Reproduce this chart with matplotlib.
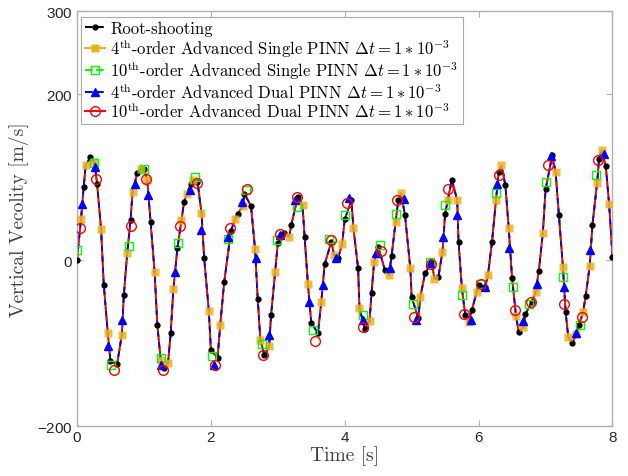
import numpy as np
import matplotlib
matplotlib.use("Agg")
import matplotlib.pyplot as plt
from matplotlib.lines import Line2D

plt.rcParams['mathtext.fontset'] = 'cm'
plt.rcParams['axes.unicode_minus'] = False
plt.rcParams['axes.formatter.use_mathtext'] = True

# root-shooting reference, one marker every 0.1 s
t_rs = np.round(np.arange(81) * 0.1, 1)
v_rs = [0, 88, 124, 92, -30, -122, -125, -42, 48, 105,
        110, 46, -78, -130, -88, 14, 70, 91, 94, 2,
        -108, -118, -26, 35, 56, 80, 65, -47, -115, -66,
        20, 33, 42, 76, 28, -76, -88, -5, 22, 2,
        49, 72, -10, -83, -40, 16, -12, 5, 72, 54,
        -45, -70, -16, -3, -20, 56, 97, 22, -66, -60,
        -30, -32, 22, 106, 90, -22, -87, -65, -50, -13,
        85, 126, 54, -63, -100, -78, -43, 42, 122, 113,
        4]

# 4th-order advanced single PINN
t_s4 = [0.06, 0.13, 0.26, 0.36, 0.46, 0.67, 0.75, 0.83, 0.95, 1.05,
        1.16, 1.25, 1.36, 1.44, 1.56, 1.64, 1.74, 1.86, 1.97, 2.14,
        2.36, 2.48, 2.66, 2.74, 2.87, 2.96, 3.17, 3.37, 3.45, 3.65,
        3.84, 3.96, 4.13, 4.22, 4.37, 4.44, 4.66, 4.76, 4.84, 4.98,
        5.13, 5.34, 5.46, 5.54, 5.68, 5.75, 5.85, 5.97, 6.14, 6.26,
        6.34, 6.45, 6.56, 6.67, 6.85, 6.96, 7.15, 7.26, 7.34, 7.46,
        7.56, 7.66, 7.77, 7.84, 7.95]
v_s4 = [49, 114, 118, 37, -88, -90, 8, 82, 110, 96,
        -15, -120, -124, -35, 48, 80, 96, 57, -62, -78,
        49, 65, 13, -96, -104, -14, 28, 66, -29, -50,
        6, 19, 38, -58, -74, -2, -18, 46, 81, -10,
        -44, -23, 10, 72, 72, -34, -75, -39, -18, 72,
        114, 38, -68, -81, -39, 33, 106, -9, -93, -89,
        -63, -7, 93, 132, 67]

# 10th-order advanced single PINN
t_s10 = [0.0, 0.26, 0.51, 0.77, 1.0, 1.26, 1.51, 1.76, 2.01, 2.26,
         2.53, 2.77, 2.99, 3.28, 3.52, 3.76, 4.01, 4.27, 4.52, 4.77,
         5.02, 5.28, 5.50, 5.75, 6.02, 6.26, 6.52, 6.75, 7.0, 7.26,
         7.51, 7.76]
v_s10 = [12, 117, -126, 17, 110, -118, 21, 100, -116, 25,
         84, -101, 24, 64, -84, 25, 54, -66, 18, 55,
         -53, -2, 66, -42, -29, 81, -32, -53, 94, -21,
         -78, 102]

# 4th-order advanced dual PINN
t_d4 = [0.07, 0.27, 0.47, 0.67, 0.86, 1.06, 1.26, 1.46, 1.69, 1.86,
        2.04, 2.26, 2.46, 2.68, 2.87, 3.04, 3.26, 3.46, 3.67, 3.87,
        4.07, 4.28, 4.46, 4.68, 4.88, 5.07, 5.28, 5.47, 5.67, 5.88,
        6.09, 6.27, 6.46, 6.67, 6.87, 7.08, 7.27, 7.46, 7.67, 7.87]
v_d4 = [68, 112, -104, -72, 92, 78, -126, -14, 84, 36,
        -126, 28, 70, 2, -90, 30, 72, -51, -30, 2,
        75, -72, 9, -10, 74, -72, -3, 28, 54, -72,
        -32, 92, 15, -74, -29, 125, -32, -88, 12, 128]

# 10th-order advanced dual PINN
t_d10 = [0.05, 0.28, 0.55, 0.80, 1.03, 1.29, 1.54, 1.80, 2.06, 2.28,
         2.54, 2.78, 3.03, 3.29, 3.56, 3.79, 4.04, 4.28, 4.54, 4.78,
         5.04, 5.29, 5.54, 5.78, 6.04, 6.30, 6.54, 6.79, 7.04, 7.28,
         7.54, 7.78]
v_d10 = [39, 98, -132, 41, 98, -132, 41, 93, -126, 38,
         85, -114, 31, 76, -97, 24, 69, -81, 11, 72,
         -69, -5, 85, -65, -29, 102, -60, -51, 114, -53,
         -69, 120]

labels = ['Root-shooting',
          r'4$^{\mathrm{th}}$-order Advanced Single PINN $\Delta t=1*10^{-3}$',
          r'10$^{\mathrm{th}}$-order Advanced Single PINN $\Delta t=1*10^{-3}$',
          r'4$^{\mathrm{th}}$-order Advanced Dual PINN $\Delta t=1*10^{-3}$',
          r'10$^{\mathrm{th}}$-order Advanced Dual PINN $\Delta t=1*10^{-3}$']

orange = '#EDB120'
green = '#00FF00'

# traced trajectory (dense points) for the connecting lines
path = sorted(zip(list(t_rs) + t_s4, v_rs + v_s4))
t_path = [p[0] for p in path]
v_path = [p[1] for p in path]

fig = plt.figure(figsize=(6.28, 4.77), dpi=100)
ax = fig.add_axes([0.1226, 0.1048, 0.8527, 0.870])

ax.plot(t_path, v_path, '--', color='k', lw=1.2, zorder=2)
ax.plot(t_path, v_path, '-', color=orange, lw=1.2, zorder=2)
ax.plot(t_path, v_path, '--', color=green, lw=1.2, zorder=2)
ax.plot(t_path, v_path, '-', color='r', lw=1.3, zorder=2)
ax.plot(t_path, v_path, '--', color='b', lw=1.3, dashes=(3, 3), zorder=2)

ax.plot(t_rs, v_rs, 'o', color='k', ms=3.5, zorder=3)
ax.plot(t_s4, v_s4, 's', color=orange, ms=5.5, alpha=0.85, mec='none', zorder=3)
ax.plot(t_s10, v_s10, 's', mfc='none', mec=green, mew=1.0, ms=5.5, zorder=3)
ax.plot(t_d4, v_d4, '^', color='b', ms=5.5, zorder=3)
ax.plot(t_d10, v_d10, 'o', mfc='none', mec='r', mew=1.0, ms=7, zorder=3)

handles = [Line2D([], [], color='k', ls='--', marker='o', ms=3.5),
           Line2D([], [], color=orange, ls='-', marker='s', ms=5.5, mec='none'),
           Line2D([], [], color=green, ls='--', marker='s', mfc='none', ms=5.5),
           Line2D([], [], color='b', ls='--', marker='^', ms=5.5),
           Line2D([], [], color='r', ls='-', marker='o', mfc='none', ms=7)]
leg = ax.legend(handles, labels, loc='upper left', bbox_to_anchor=(0.008, 0.986),
                borderaxespad=0, prop={'family': 'cmr10', 'size': 12},
                handlelength=1.2, handletextpad=0.3, labelspacing=0.0,
                borderpad=0.25, fancybox=False, framealpha=1)
leg.get_frame().set_edgecolor('#aaaaaa')
leg.get_frame().set_linewidth(0.8)

ax.set_xlim(0, 8)
ax.set_ylim(-200, 300)
ax.set_xticks([0, 2, 4, 6, 8])
ax.set_yticks([-200, 0, 200, 300])
ax.tick_params(direction='in', length=4, width=0.8, colors='#b0b0b0',
               labelcolor='#262626', labelsize=11, top=True, right=True, pad=3)
for lab in ax.get_xticklabels() + ax.get_yticklabels():
    lab.set_family('Liberation Sans')
for s in ax.spines.values():
    s.set_color('#b0b0b0')
    s.set_linewidth(1.0)

ax.set_xlabel('Time [s]', family='cmr10', fontsize=14, color='#404040', labelpad=1)
ax.set_ylabel('Vertical Vecolity [m/s]', family='cmr10', fontsize=14, color='#404040', labelpad=6)

fig.savefig('out.png', dpi=100)
